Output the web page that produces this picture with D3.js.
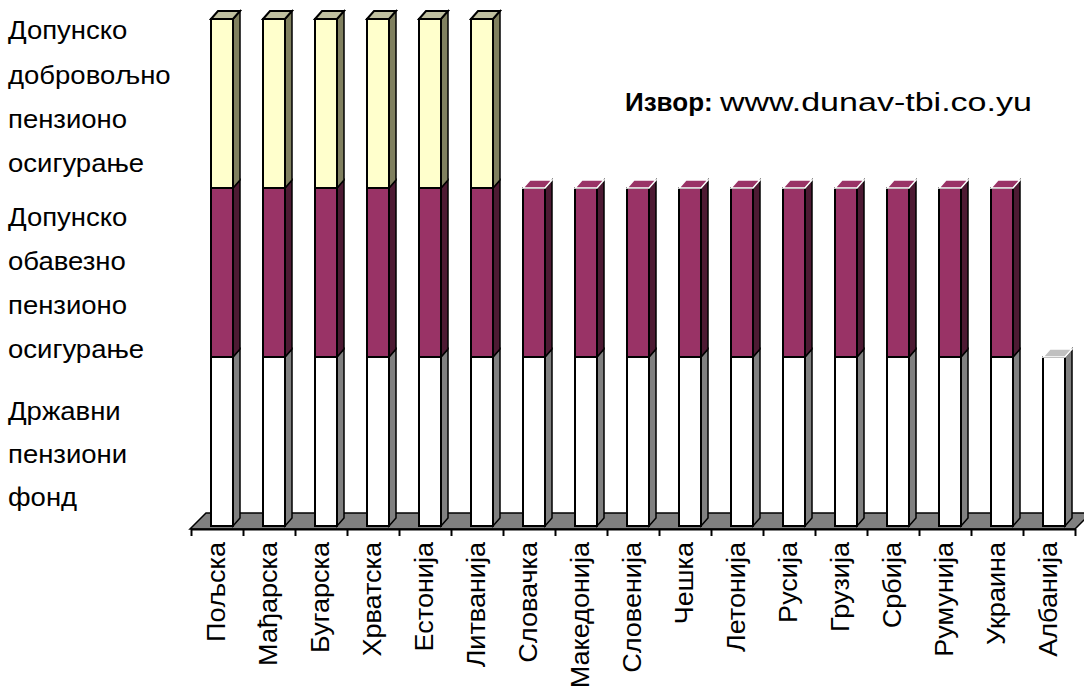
<!DOCTYPE html>
<html lang="sr">
<head>
<meta charset="UTF-8">
<title>Пензиони системи</title>
<script src="https://d3js.org/d3.v7.min.js"></script>
<style>
  body { margin: 0; background: #fff; overflow: hidden; }
  text { font-family: "Liberation Sans", Arial, sans-serif; fill: #000; }
</style>
</head>
<body>
<script>
// Data
const countries = ["Пољска", "Мађарска", "Бугарска", "Хрватска", "Естонија", "Литванија",
  "Словачка", "Македонија", "Словенија", "Чешка", "Летонија", "Русија", "Грузија",
  "Србија", "Румунија", "Украина", "Албанија"];
const drzavni    = [1, 1, 1, 1, 1, 1, 1, 1, 1, 1, 1, 1, 1, 1, 1, 1, 1];
const obavezno   = [1, 1, 1, 1, 1, 1, 1, 1, 1, 1, 1, 1, 1, 1, 1, 1, 0];
const dobrovoljno = [1, 1, 1, 1, 1, 1, 0, 0, 0, 0, 0, 0, 0, 0, 0, 0, 0];
const seriesKeys = ["drzavni", "obavezno", "dobrovoljno"];
const legendLines = [
  ["Допунско", "добровољно", "пензионо", "осигурање"],
  ["Допунско", "обавезно", "пензионо", "осигурање"],
  ["Државни", "пензиони", "фонд"]
];

const width = 1084, height = 697;
const svg = d3.select("body").append("svg").attr("width", width).attr("height", height);

// colours per series: front, side, top
const colors = {
  drzavni:     { front: "#ffffff", side: "#808080", top: "#c0c0c0" },
  obavezno:    { front: "#993366", side: "#4d1a33", top: "#993366" },
  dobrovoljno: { front: "#ffffcc", side: "#80805f", top: "#c0c0a0" }
};

const table = countries.map((c, i) => ({
  country: c, drzavni: drzavni[i], obavezno: obavezno[i], dobrovoljno: dobrovoljno[i]
}));
const stacked = d3.stack().keys(seriesKeys)(table);

// scales
const x = d3.scaleBand().domain(countries).range([191, 1075]).padding(0);
const y = d3.scaleLinear().domain([0, 3]).range([526, 19]);
const barW = 22, dx = 7, dy = -8;
const floorY = 529, fdx = 16, fdy = -16;

// floor
svg.append("polygon")
  .attr("points", [[190, floorY], [1075, floorY], [1075 + fdx, floorY + fdy], [190 + fdx, floorY + fdy]].join(" "))
  .attr("fill", "#808080").attr("stroke", "#000").attr("stroke-width", 1.5);

// bars
const bars = svg.append("g");
countries.forEach((c, i) => {
  const x0 = x(c) + x.bandwidth() / 2 + 5 - barW / 2, x1 = x0 + barW;
  let topKey = null, topY = null;
  stacked.forEach(layer => {
    const d = layer[i];
    if (d[1] - d[0] <= 0) return;
    const col = colors[layer.key];
    const yb = y(d[0]), yt = y(d[1]);
    bars.append("polygon")
      .attr("points", [[x1, yt], [x1 + dx, yt + dy], [x1 + dx, yb + dy], [x1, yb]].join(" "))
      .attr("fill", col.side).attr("stroke", "#000").attr("stroke-width", 1.5);
    bars.append("rect")
      .attr("x", x0).attr("y", yt).attr("width", barW).attr("height", yb - yt)
      .attr("fill", col.front).attr("stroke", "#000").attr("stroke-width", 2);
    topKey = layer.key; topY = yt;
  });
  // top face (white outline where the next series is empty)
  const full = topKey === "dobrovoljno";
  bars.append("polygon")
    .attr("points", [[x0, topY], [x0 + dx, topY + dy], [x1 + dx, topY + dy], [x1, topY]].join(" "))
    .attr("fill", colors[topKey].top)
    .attr("stroke", full ? "#000" : "#fff").attr("stroke-width", full ? 2 : 1.5);
});

// axis with ticks between categories
const xb = d3.scaleLinear().domain([0, countries.length]).range([191, 1075]);
svg.append("g")
  .attr("transform", `translate(0,${floorY})`)
  .call(d3.axisBottom(xb).tickValues(d3.range(countries.length + 1))
    .tickSize(7).tickSizeOuter(0).tickFormat(""))
  .call(g => g.selectAll("line,path").attr("stroke", "#000").attr("stroke-width", 2));

// category labels
svg.append("g").selectAll("text").data(countries).join("text")
  .attr("transform", d => `translate(${x(d) + x.bandwidth() / 2 - 1},542) rotate(-90) scale(1.04,1)`)
  .attr("dy", "0.35em")
  .attr("text-anchor", "end")
  .attr("font-size", 26)
  .text(d => d);

// legend-like labels on the left
const baselines = [[39, 84, 128, 172], [226, 270, 314, 358], [420, 463, 506]];
legendLines.forEach((lines, gi) => {
  lines.forEach((t, li) => {
    svg.append("text")
      .attr("transform", `translate(8,${baselines[gi][li]}) scale(1.1,1)`)
      .attr("font-size", 25).text(t);
  });
});

// source note
const src = svg.append("text").attr("transform", "translate(625,111)").attr("font-size", 26);
src.append("tspan").attr("font-weight", "bold").text("Извор:");
src.append("tspan").text("\u00a0");
src.append("tspan").attr("textLength", 312).attr("lengthAdjust", "spacingAndGlyphs")
  .text("www.dunav-tbi.co.yu");
</script>
</body>
</html>
